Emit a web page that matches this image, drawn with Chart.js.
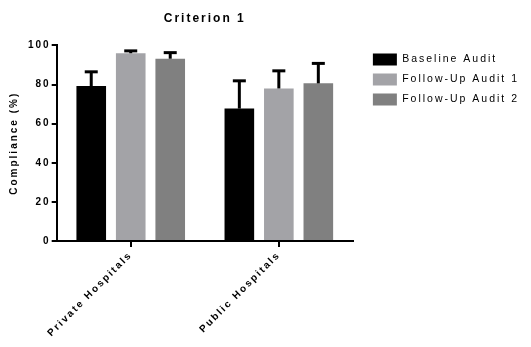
<!DOCTYPE html>
<html>
<head>
<meta charset="utf-8">
<script src="https://cdn.jsdelivr.net/npm/chart.js@4"></script>
<style>
html,body{margin:0;padding:0;background:#fff;}
#wrap{width:531px;height:347px;position:relative;}
</style>
</head>
<body>
<div id="wrap"><canvas id="c" width="531" height="347"></canvas></div>
<script>
const categories = ["Private Hospitals", "Public Hospitals"];
const seriesNames = ["Baseline Audit", "Follow-Up Audit 1", "Follow-Up Audit 2"];
const baseline = [79.2, 67.7];
const followUp1 = [96.0, 78.0];
const followUp2 = [93.2, 80.6];
const baselineErr = [7.3, 14.2];
const followUp1Err = [1.2, 9.0];
const followUp2Err = [3.1, 10.2];
const yTicks = [0, 20, 40, 60, 80, 100];

const colors = ["#000000", "#a3a3a7", "#808080"];
const SPACING = 2;

const spacingPlugin = {
  id: 'spacing',
  beforeLayout(chart){
    chart.ctx.letterSpacing = SPACING + 'px';
    const lg = chart.legend;
    if (lg && !lg._spacingPatched) {
      const orig = lg.fit;
      lg.fit = function(){
        const mw = this.maxWidth;
        this.maxWidth = 10000;
        orig.call(this);
        this.maxWidth = mw;
        this.width = this.width + 2;
      };
      lg._spacingPatched = true;
    }
  },
  beforeDraw(chart){ chart.ctx.letterSpacing = SPACING + 'px'; },
  beforeDatasetsDraw(chart){ chart.ctx.letterSpacing = SPACING + 'px'; }
};

const errorBarPlugin = {
  id: 'errbars',
  afterDatasetsDraw(chart){
    const ctx = chart.ctx;
    const y = chart.scales.y;
    chart.data.datasets.forEach((ds, di) => {
      const meta = chart.getDatasetMeta(di);
      meta.data.forEach((bar, i) => {
        const top = y.getPixelForValue(ds.data[i] + ds.errors[i]);
        const base = y.getPixelForValue(ds.data[i]);
        ctx.save();
        ctx.strokeStyle = '#000';
        ctx.lineWidth = 3;
        ctx.beginPath();
        ctx.moveTo(bar.x, base);
        ctx.lineTo(bar.x, top);
        ctx.stroke();
        ctx.beginPath();
        ctx.moveTo(bar.x - 6.5, top);
        ctx.lineTo(bar.x + 6.5, top);
        ctx.stroke();
        ctx.restore();
      });
    });
  }
};

const font = "'Liberation Sans', Arial, sans-serif";

new Chart(document.getElementById('c'), {
  type: 'bar',
  data: {
    labels: categories,
    datasets: [
      {label: seriesNames[0], data: baseline, errors: baselineErr, backgroundColor: colors[0], borderWidth: 0},
      {label: seriesNames[1], data: followUp1, errors: followUp1Err, backgroundColor: colors[1], borderWidth: 0},
      {label: seriesNames[2], data: followUp2, errors: followUp2Err, backgroundColor: colors[2], borderWidth: 0}
    ]
  },
  options: {
    responsive: false,
    animation: false,
    devicePixelRatio: 1,
    layout: {padding: {left: 8, right: 0, top: 0, bottom: 6}},
    categoryPercentage: 0.8,
    barPercentage: 0.75,
    plugins: {
      title: {
        display: true,
        fullSize: false,
        text: 'Criterion 1',
        color: '#000',
        font: {family: font, size: 12, weight: 'bold'},
        padding: {top: 11, bottom: 20}
      },
      legend: {
        position: 'right',
        align: 'start',
        fullSize: false,
        labels: {
          color: '#000',
          font: {family: font, size: 10.5},
          boxWidth: 24,
          boxHeight: 12,
          padding: 8
        }
      },
      tooltip: {enabled: false}
    },
    scales: {
      x: {
        grid: {display: true, drawOnChartArea: false, drawTicks: true, tickLength: 6, color: '#000', lineWidth: 2, offset: false},
        border: {display: true, color: '#000', width: 2},
        ticks: {color: '#000', font: {family: font, size: 10, weight: 'bold'}, minRotation: 45, maxRotation: 45, padding: 2}
      },
      y: {
        min: 0, max: 100,
        afterBuildTicks(scale){ scale.ticks = yTicks.map(v => ({value: v})); },
        grid: {display: true, drawOnChartArea: false, drawTicks: true, tickLength: 5, color: '#000', lineWidth: 2},
        border: {display: true, color: '#000', width: 2},
        ticks: {color: '#000', font: {family: font, size: 10, weight: 'bold'}, padding: 1},
        title: {display: true, text: 'Compliance (%)', color: '#000', font: {family: font, size: 10, weight: 'bold'}, padding: {top: 0, bottom: 7}}
      },
      gap: {
        type: 'linear',
        position: 'right',
        display: true,
        grid: {display: false},
        border: {display: false},
        ticks: {display: false},
        afterFit(scale){ scale.width = 12; }
      }
    }
  },
  plugins: [spacingPlugin, errorBarPlugin]
});
</script>
</body>
</html>
